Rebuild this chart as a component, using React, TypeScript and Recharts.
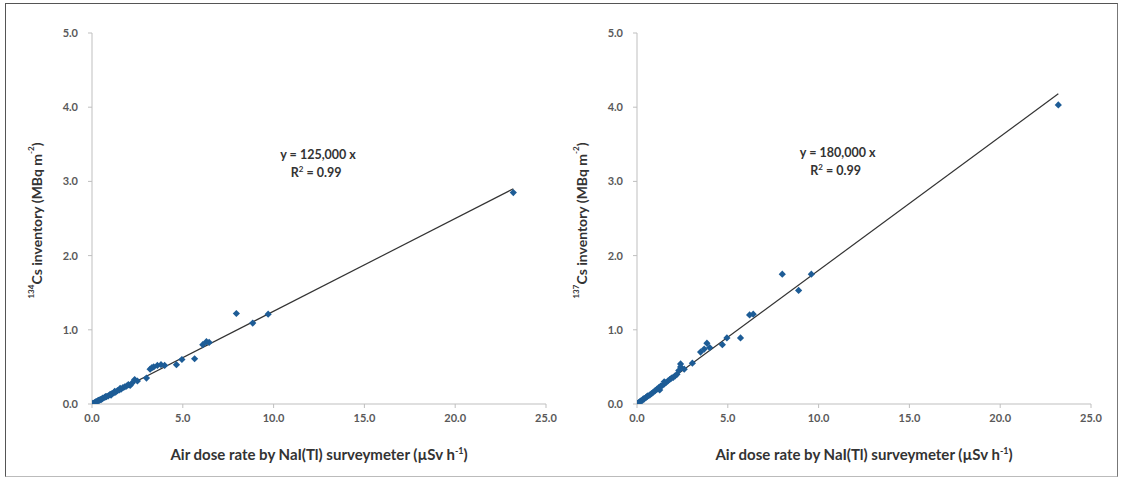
import React from "react";
import {
  ReferenceDot,
  ReferenceLine,
  Scatter,
  ScatterChart,
  XAxis,
  YAxis,
} from "recharts";

interface Pt {
  x: number;
  y: number;
}

// 134Cs inventory (MBq m-2) vs air dose rate (uSv h-1)
const cs134Points: Pt[] = [
  { x: 0.05, y: 0.01 }, { x: 0.1, y: 0.01 }, { x: 0.15, y: 0.02 },
  { x: 0.2, y: 0.03 }, { x: 0.25, y: 0.03 }, { x: 0.3, y: 0.04 },
  { x: 0.35, y: 0.05 }, { x: 0.4, y: 0.05 }, { x: 0.45, y: 0.06 },
  { x: 0.5, y: 0.06 }, { x: 0.55, y: 0.07 }, { x: 0.6, y: 0.08 },
  { x: 0.7, y: 0.09 }, { x: 0.75, y: 0.1 }, { x: 0.8, y: 0.1 },
  { x: 0.9, y: 0.11 }, { x: 1.0, y: 0.13 }, { x: 1.05, y: 0.12 },
  { x: 1.1, y: 0.14 }, { x: 1.2, y: 0.15 }, { x: 1.25, y: 0.17 },
  { x: 1.3, y: 0.16 }, { x: 1.4, y: 0.18 }, { x: 1.5, y: 0.19 },
  { x: 1.55, y: 0.21 }, { x: 1.6, y: 0.2 }, { x: 1.7, y: 0.22 },
  { x: 1.8, y: 0.23 }, { x: 1.9, y: 0.24 }, { x: 2.0, y: 0.26 },
  { x: 2.1, y: 0.25 }, { x: 2.2, y: 0.28 }, { x: 2.35, y: 0.33 },
  { x: 2.5, y: 0.31 }, { x: 3.0, y: 0.35 },
  { x: 3.2, y: 0.47 }, { x: 3.4, y: 0.5 }, { x: 3.6, y: 0.52 },
  { x: 3.8, y: 0.53 }, { x: 3.3, y: 0.49 }, { x: 4.0, y: 0.52 },
  { x: 4.65, y: 0.53 }, { x: 4.95, y: 0.6 }, { x: 5.65, y: 0.61 },
  { x: 6.1, y: 0.8 }, { x: 6.3, y: 0.84 }, { x: 6.45, y: 0.83 },
  { x: 7.95, y: 1.22 }, { x: 8.85, y: 1.09 }, { x: 9.7, y: 1.21 },
  { x: 23.2, y: 2.85 },
];

// 137Cs inventory (MBq m-2) vs air dose rate (uSv h-1)
const cs137Points: Pt[] = [
  { x: 0.05, y: 0.01 }, { x: 0.1, y: 0.02 }, { x: 0.15, y: 0.03 },
  { x: 0.2, y: 0.04 }, { x: 0.3, y: 0.05 }, { x: 0.35, y: 0.07 },
  { x: 0.4, y: 0.07 }, { x: 0.5, y: 0.09 }, { x: 0.55, y: 0.1 },
  { x: 0.6, y: 0.11 }, { x: 0.7, y: 0.12 }, { x: 0.8, y: 0.14 },
  { x: 0.9, y: 0.16 }, { x: 1.0, y: 0.18 }, { x: 1.1, y: 0.2 },
  { x: 1.2, y: 0.22 }, { x: 1.25, y: 0.19 }, { x: 1.3, y: 0.24 },
  { x: 1.4, y: 0.25 }, { x: 1.5, y: 0.27 }, { x: 1.5, y: 0.3 },
  { x: 1.6, y: 0.29 }, { x: 1.7, y: 0.31 }, { x: 1.8, y: 0.33 },
  { x: 1.9, y: 0.35 }, { x: 2.0, y: 0.36 }, { x: 2.1, y: 0.38 },
  { x: 2.2, y: 0.4 }, { x: 2.3, y: 0.45 }, { x: 2.4, y: 0.5 },
  { x: 2.4, y: 0.54 }, { x: 2.6, y: 0.47 }, { x: 3.05, y: 0.55 },
  { x: 3.5, y: 0.7 }, { x: 3.7, y: 0.74 }, { x: 3.85, y: 0.82 },
  { x: 4.0, y: 0.76 }, { x: 4.7, y: 0.8 }, { x: 4.95, y: 0.89 },
  { x: 5.7, y: 0.89 }, { x: 6.2, y: 1.2 }, { x: 6.4, y: 1.21 },
  { x: 8.0, y: 1.75 }, { x: 8.9, y: 1.53 }, { x: 9.6, y: 1.75 },
  { x: 23.2, y: 4.03 },
];

// trend lines (y = 125,000 x and y = 180,000 x), end points
const cs134Trend: Pt[] = [{ x: 0, y: 0 }, { x: 23.2, y: 2.9 }];
const cs137Trend: Pt[] = [{ x: 0, y: 0 }, { x: 23.2, y: 4.18 }];

const xTicks = [0, 5, 10, 15, 20, 25];
const yTicks = [0, 1, 2, 3, 4, 5];

const FONT = "Lato, 'Open Sans', sans-serif";
const MARKER = "#1d5c96";
const AXIS = "#bfbfbf";

// excel-like square diamond marker
const Diamond = (props: any) => {
  const { cx, cy } = props;
  if (cx == null || cy == null) return null;
  const r = 3.6;
  return (
    <polygon
      points={`${cx},${cy - r} ${cx + r},${cy} ${cx},${cy + r} ${cx - r},${cy}`}
      fill={MARKER}
    />
  );
};

interface PanelProps {
  points: Pt[];
  trend: Pt[];
  mass: string;
  equation: string;
  eqAt: Pt;
  left: number;
}

const Panel: React.FC<PanelProps> = ({ points, trend, mass, equation, eqAt, left }) => {
  const tickStyle = { fontFamily: FONT, fontSize: 11, fontWeight: 700, fill: "#595959" };
  return (
    <div style={{ position: "absolute", left, top: 0 }}>
      <ScatterChart width={560} height={479} margin={{ top: 33, right: 14, bottom: 25, left: 0 }}>
        <XAxis
          type="number"
          dataKey="x"
          domain={[0, 25]}
          ticks={xTicks}
          tickFormatter={(v: number) => v.toFixed(1)}
          stroke={AXIS}
          tickSize={4}
          tickMargin={6}
          tick={tickStyle}
          height={50}
          allowDataOverflow
          label={{
            content: (p: any) => {
              const vb = p.viewBox;
              return (
                <text
                  x={vb.x + vb.width / 2}
                  y={vb.y + 56}
                  textAnchor="middle"
                  fontFamily={FONT}
                  fontSize={15}
                  fontWeight={700}
                  fill="#333"
                >
                  Air dose rate by NaI(Tl) surveymeter (µSv h
                  <tspan dy={-6} fontSize={9}>-1</tspan>
                  <tspan dy={6}>)</tspan>
                </text>
              );
            },
          }}
        />
        <YAxis
          type="number"
          dataKey="y"
          domain={[0, 5]}
          ticks={yTicks}
          tickFormatter={(v: number) => v.toFixed(1)}
          stroke={AXIS}
          tickSize={4}
          tickMargin={10}
          tick={tickStyle}
          width={92}
          allowDataOverflow
          label={{
            content: (p: any) => {
              const vb = p.viewBox;
              const cx = vb.x + 36;
              const cy = vb.y + vb.height / 2 + 2;
              return (
                <text
                  x={cx}
                  y={cy}
                  transform={`rotate(-90 ${cx} ${cy})`}
                  textAnchor="middle"
                  dominantBaseline="central"
                  fontFamily={FONT}
                  fontSize={14}
                  fontWeight={700}
                  fill="#333"
                >
                  <tspan dy={-5} fontSize={8}>{mass}</tspan>
                  <tspan dy={5}>Cs inventory  (MBq m</tspan>
                  <tspan dy={-5} fontSize={8}>-2</tspan>
                  <tspan dy={5}>)</tspan>
                </text>
              );
            },
          }}
        />
        <ReferenceLine
          segment={trend}
          stroke="#333"
          strokeWidth={1.2}
          ifOverflow="visible"
        />
        <Scatter
          data={points}
          fill={MARKER}
          shape={Diamond}
          isAnimationActive={false}
        />
        <ReferenceDot
          x={eqAt.x}
          y={eqAt.y}
          r={0}
          ifOverflow="visible"
          label={{
            content: (p: any) => {
              const vb = p.viewBox;
              const cx = vb.x + (vb.width || 0) / 2;
              const cy = vb.y + (vb.height || 0) / 2;
              return (
                <text
                  x={cx}
                  y={cy}
                  textAnchor="middle"
                  fontFamily={FONT}
                  fontSize={12.5}
                  fontWeight={700}
                  fill="#333"
                >
                  <tspan x={cx} dy={0}>{equation}</tspan>
                  <tspan x={cx - 2} dy={18}>R</tspan>
                  <tspan dy={-5} fontSize={8}>2</tspan>
                  <tspan dy={5}> = 0.99</tspan>
                </text>
              );
            },
          }}
        />
      </ScatterChart>
    </div>
  );
};

export default function App() {
  return (
    <div
      style={{
        position: "absolute",
        left: 0,
        top: 0,
        width: 1123,
        height: 479,
        background: "#fff",
        overflow: "hidden",
      }}
    >
      <div
        style={{
          position: "absolute",
          left: 5,
          top: 3,
          width: 1111,
          height: 472,
          borderTop: "1px solid #555",
          borderLeft: "1px solid #555",
          borderRight: "1px solid #777",
          borderBottom: "1px solid #bbb",
        }}
      />
      <Panel
        points={cs134Points}
        trend={cs134Trend}
        mass="134"
        equation="y = 125,000 x"
        eqAt={{ x: 12.45, y: 3.3 }}
        left={0}
      />
      <Panel
        points={cs137Points}
        trend={cs137Trend}
        mass="137"
        equation="y = 180,000 x"
        eqAt={{ x: 11.05, y: 3.33 }}
        left={545}
      />
    </div>
  );
}
